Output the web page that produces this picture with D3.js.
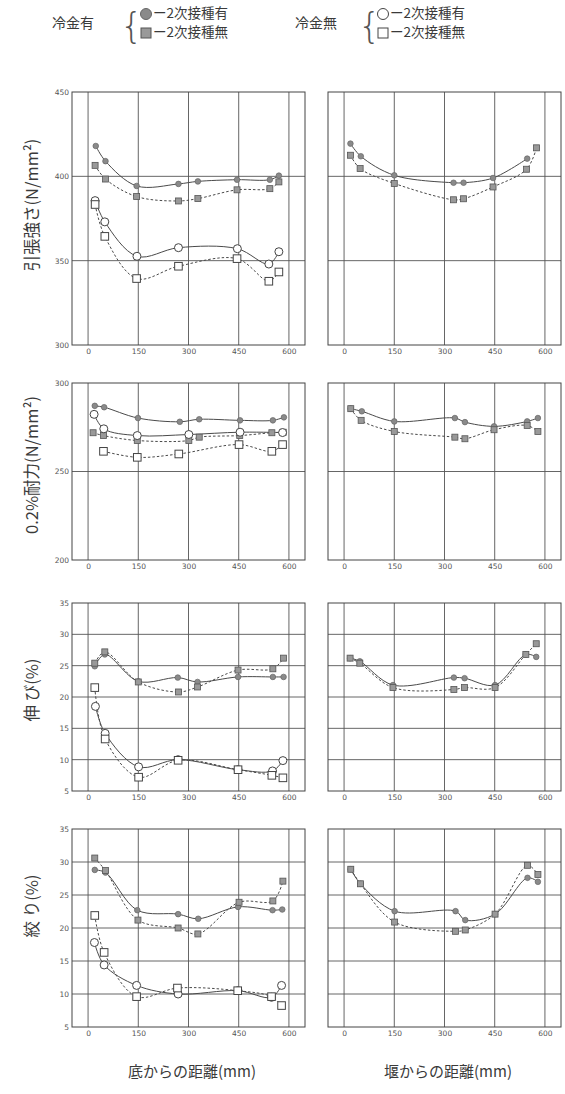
<!DOCTYPE html>
<html><head><meta charset="utf-8">
<script src="https://cdn.jsdelivr.net/npm/d3@7"></script>
<style>
html,body{margin:0;padding:0;background:#fff;}
svg{display:block;font-family:"Noto Sans CJK JP","Noto Sans",sans-serif;}
</style></head>
<body>
<svg id="chart" width="565" height="1094"></svg>
<script>
// ---------- data (x = distance mm, y = value) ----------
const xTicks = [0, 150, 300, 450, 600];
const xTickLabels = ["0", "150", "300", "450", "600"];

// Row 1: 引張強さ (N/mm2)
const tsTicks = [300, 350, 400, 450];
const tsBottomFilledCircle = [[23,418],[52,409],[145,394.3],[270,395.5],[328,397],[445,398],[543,398],[570,400.4]];
const tsBottomFilledSquare = [[21,406.5],[52,398.4],[145,388],[270,385.4],[328,386.8],[445,392],[543,392.7],[570,396.7]];
const tsBottomOpenCircle   = [[21,385.6],[50,373],[146,352.6],[270,357.7],[446,357.1],[540,348],[570,355.3]];
const tsBottomOpenSquare   = [[21,383.3],[50,364.4],[145,339.4],[270,346.7],[445,351.2],[540,337.8],[570,343.3]];
const tsWeirFilledCircle   = [[19,419.4],[50,411.9],[150,400.6],[327,396.2],[357,396.2],[445,399],[547,410.5]];
const tsWeirFilledSquare   = [[19,412.5],[48,404.6],[150,395.8],[327,386.1],[357,386.7],[445,393.7],[545,404.2],[575,416.9]];

// Row 2: 0.2%耐力 (N/mm2)
const psTicks = [200, 250, 300];
const psBottomFilledCircle = [[20,287.1],[48,286.3],[149,280.2],[274,278.1],[332,279.5],[454,278.9],[552,278.9],[585,280.6]];
const psBottomFilledSquare = [[15,271.9],[46,270.3],[147,267.5],[301,267.5],[332,269.4],[453,270.3],[549,271.9],[583,272.2]];
const psBottomOpenCircle   = [[18,282.3],[47,274.1],[147,270.3],[301,270.9],[454,272.2],[581,272]];
const psBottomOpenSquare   = [[46,261.4],[147,258],[271,259.9],[451,265.2],[549,261.4],[581,265.2]];
const psWeirFilledCircle   = [[20,285.5],[53,284],[150,278.3],[331,280.2],[361,277.9],[448,275.5],[547,278.3],[579,280.2]];
const psWeirFilledSquare   = [[20,285.5],[51,278.9],[150,272.6],[331,269.4],[361,268.5],[448,273.6],[547,276],[579,272.6]];

// Row 3: 伸び (%)
const elTicks = [5, 10, 15, 20, 25, 30, 35];
const elBottomFilledCircle = [[20,24.9],[50,26.8],[150,22.5],[268,23.1],[327,22.4],[448,23.2],[552,23.2],[584,23.2]];
const elBottomFilledSquare = [[20,25.4],[50,27.2],[150,22.4],[270,20.8],[327,21.6],[448,24.3],[552,24.5],[584,26.2]];
const elBottomOpenCircle   = [[22,18.5],[51,14.2],[151,8.85],[269,10],[448,8.4],[551,8.2],[582,9.85]];
const elBottomOpenSquare   = [[20,21.5],[51,13.3],[151,7.2],[269,9.9],[448,8.4],[549,7.5],[582,7.1]];
const elWeirFilledCircle   = [[18,26.2],[47,25.7],[146,21.9],[328,23.1],[360,23],[451,21.9],[543,26.8],[574,26.4]];
const elWeirFilledSquare   = [[18,26.2],[47,25.4],[146,21.5],[328,21.2],[360,21.5],[451,21.5],[543,26.8],[574,28.5]];

// Row 4: 絞り (%)
const raTicks = [5, 10, 15, 20, 25, 30, 35];
const raBottomFilledCircle = [[20,28.8],[52,28.4],[147,22.7],[269,22.1],[329,21.4],[448,23.2],[551,22.7],[580,22.8]];
const raBottomFilledSquare = [[20,30.6],[52,28.7],[149,21.2],[269,20],[328,19.1],[451,23.9],[552,24.1],[582,27.1]];
const raBottomOpenCircle   = [[19,17.8],[48,14.4],[145,11.3],[269,10],[448,10.5],[548,9.5],[578,11.3]];
const raBottomOpenSquare   = [[20,21.9],[48,16.3],[145,9.6],[267,10.9],[447,10.5],[548,9.6],[578,8.25]];
const raWeirFilledCircle   = [[20,28.9],[49,26.7],[151,22.55],[333,22.55],[362,21.2],[451,22.1],[548,27.6],[579,27]];
const raWeirFilledSquare   = [[20,28.9],[49,26.7],[151,20.9],[333,19.5],[362,19.7],[451,22.1],[548,29.5],[579,28.1]];

const yTitles = ["引張強さ(N/mm²)", "0.2%耐力(N/mm²)", "伸 び(%)", "絞 り(%)"];
const xTitles = ["底からの距離(mm)", "堰からの距離(mm)"];
const legendGroups = ["冷金有", "冷金無"];
const legendItems = ["ー2次接種有", "ー2次接種無"];

// ---------- layout ----------
const svg = d3.select("#chart");
const ink = "#3a3a3a";
const cols = [{x0:72, x1:305}, {x0:328, x1:561}];
const rows = [
  {y0:92,  y1:345,  tc:205, ticks:tsTicks, data:[[tsBottomFilledCircle,tsBottomFilledSquare,tsBottomOpenCircle,tsBottomOpenSquare],[tsWeirFilledCircle,tsWeirFilledSquare]]},
  {y0:383, y1:560,  tc:465, ticks:psTicks, data:[[psBottomFilledCircle,psBottomFilledSquare,psBottomOpenCircle,psBottomOpenSquare],[psWeirFilledCircle,psWeirFilledSquare]]},
  {y0:603, y1:791,  tc:690, ticks:elTicks, data:[[elBottomFilledCircle,elBottomFilledSquare,elBottomOpenCircle,elBottomOpenSquare],[elWeirFilledCircle,elWeirFilledSquare]]},
  {y0:829, y1:1027, tc:906, ticks:raTicks, data:[[raBottomFilledCircle,raBottomFilledSquare,raBottomOpenCircle,raBottomOpenSquare],[raWeirFilledCircle,raWeirFilledSquare]]}
];
// series kinds: filled circle/solid, filled square/dashed, open circle/solid, open square/dashed
const kinds = ["fc","fs","oc","os"];

function drawMarker(g, kind, cx, cy) {
  if (kind === "fc") g.append("circle").attr("cx",cx).attr("cy",cy).attr("r",2.8).attr("fill","#8a8a8a").attr("stroke","#666").attr("stroke-width",0.7);
  else if (kind === "fs") g.append("rect").attr("x",cx-3).attr("y",cy-3).attr("width",6).attr("height",6).attr("fill","#999").attr("stroke","#555").attr("stroke-width",0.8);
  else if (kind === "oc") g.append("circle").attr("cx",cx).attr("cy",cy).attr("r",4).attr("fill","#fff").attr("stroke","#444").attr("stroke-width",1);
  else g.append("rect").attr("x",cx-3.8).attr("y",cy-3.8).attr("width",7.6).attr("height",7.6).attr("fill","#fff").attr("stroke","#444").attr("stroke-width",1);
}

rows.forEach((row, ri) => {
  cols.forEach((col, ci) => {
    const x = d3.scaleLinear().domain([-48, 648]).range([col.x0, col.x1]);
    const y = d3.scaleLinear().domain([row.ticks[0], row.ticks[row.ticks.length-1]]).range([row.y1, row.y0]);
    const g = svg.append("g");
    g.selectAll(".vg").data(xTicks).join("line")
      .attr("x1",d=>x(d)).attr("x2",d=>x(d)).attr("y1",row.y0).attr("y2",row.y1)
      .attr("stroke","#555").attr("stroke-width",0.9);
    g.selectAll(".hg").data(row.ticks.slice(1,-1)).join("line")
      .attr("x1",col.x0).attr("x2",col.x1).attr("y1",d=>y(d)).attr("y2",d=>y(d))
      .attr("stroke","#555").attr("stroke-width",0.9);
    g.append("rect").attr("x",col.x0).attr("y",row.y0).attr("width",col.x1-col.x0).attr("height",row.y1-row.y0)
      .attr("fill","none").attr("stroke","#444").attr("stroke-width",1);
    const xa = d3.axisBottom(x).tickValues(xTicks).tickFormat((d,i)=>xTickLabels[i]).tickSize(0).tickPadding(4);
    const xg = g.append("g").attr("transform",`translate(0,${row.y1})`).call(xa);
    xg.select(".domain").remove();
    xg.selectAll("text").attr("fill","#555").style("font-size","7.5px").style("font-family","'DejaVu Sans',sans-serif");
    if (ci === 0) {
      const ya = d3.axisLeft(y).tickValues(row.ticks).tickSize(0).tickPadding(3);
      const yg = g.append("g").attr("transform",`translate(${col.x0},0)`).call(ya);
      yg.select(".domain").remove();
      yg.selectAll("text").attr("fill","#555").style("font-size","7.5px").style("font-family","'DejaVu Sans',sans-serif");
    }
    const line = d3.line().x(d=>x(d[0])).y(d=>y(d[1])).curve(d3.curveCatmullRom.alpha(0.5));
    row.data[ci].forEach((series, si) => {
      const kind = kinds[si];
      g.append("path").attr("d", line(series)).attr("fill","none")
        .attr("stroke","#4a4a4a").attr("stroke-width",1)
        .attr("stroke-dasharray", (kind==="fs"||kind==="os") ? "2.5,2" : null);
    });
    row.data[ci].forEach((series, si) => {
      const kind = kinds[si];
      series.forEach(p => drawMarker(g, kind, x(p[0]), y(p[1])));
    });
  });
  svg.append("text").attr("transform",`translate(34,${row.tc}) rotate(-90)`)
    .attr("text-anchor","middle").attr("dominant-baseline","middle")
    .attr("fill",ink).style("font-size","16.5px").text(yTitles[ri]);
});

svg.append("text").attr("x",192).attr("y",1077).attr("text-anchor","middle").attr("fill",ink).style("font-size","15px").text(xTitles[0]);
svg.append("text").attr("x",448).attr("y",1077).attr("text-anchor","middle").attr("fill",ink).style("font-size","15px").text(xTitles[1]);

const legendX = [{label:52, brace:120, item:140}, {label:295, brace:358, item:377}];
legendGroups.forEach((grp, gi) => {
  const L = legendX[gi];
  svg.append("text").attr("x",L.label).attr("y",24).attr("dominant-baseline","middle").attr("fill",ink).style("font-size","14px").text(grp);
  svg.append("text").attr("x",L.brace).attr("y",38).attr("fill","#555").style("font-size","36px")
    .style("font-family","'DejaVu Sans',sans-serif").style("font-weight","200").text("{");
  legendItems.forEach((it, ii) => {
    const yy = 14 + ii*19;
    const kind = gi === 0 ? (ii===0 ? "fc" : "fs") : (ii===0 ? "oc" : "os");
    const lg = svg.append("g");
    if (kind === "fc") lg.append("circle").attr("cx",L.item+6).attr("cy",yy).attr("r",5.5).attr("fill","#8a8a8a").attr("stroke","#666");
    else if (kind === "fs") lg.append("rect").attr("x",L.item+1).attr("y",yy-5).attr("width",10).attr("height",10).attr("fill","#999").attr("stroke","#555");
    else if (kind === "oc") lg.append("circle").attr("cx",L.item+6).attr("cy",yy).attr("r",5.5).attr("fill","#fff").attr("stroke","#444");
    else lg.append("rect").attr("x",L.item+1).attr("y",yy-5).attr("width",10).attr("height",10).attr("fill","#fff").attr("stroke","#444");
    svg.append("text").attr("x",L.item+13).attr("y",yy).attr("dominant-baseline","middle").attr("fill",ink).style("font-size","13.5px").text(it);
  });
});
</script>
</body></html>
